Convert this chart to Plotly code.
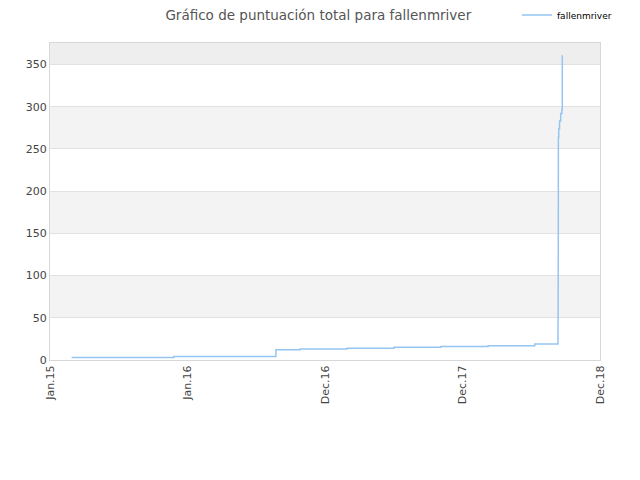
import plotly.graph_objects as go

# steps of the total score over time
fechas = [
    "2015-03-27", "2015-12-12", "2016-08-28", "2016-10-28", "2017-02-25",
    "2017-06-25", "2017-10-22", "2018-02-19", "2018-06-18",
    "2018-08-16 00:00", "2018-08-16 02:00", "2018-08-16 04:00", "2018-08-16 06:00",
    "2018-08-16 08:00", "2018-08-16 10:00", "2018-08-16 12:00", "2018-08-16 14:00",
    "2018-08-16 16:00", "2018-08-16 18:00", "2018-08-16 20:00", "2018-08-16 22:00",
    "2018-08-17 00:00", "2018-08-18", "2018-08-20", "2018-08-23", "2018-08-26",
    "2018-08-27",
]
puntos = [
    3, 4, 12, 13, 14,
    15, 16, 17, 19,
    27, 35, 41, 49,
    61, 73, 87, 98,
    112, 146, 175, 217,
    264, 274, 283, 292, 297,
    361,
]

ticks_x = ["2015-01-31", "2016-01-16", "2016-12-31", "2017-12-16", "2018-12-01"]
ticks_txt = ["Jan.15", "Jan.16", "Dec.16", "Dec.17", "Dec.18"]
bandas = [(50, 100), (150, 200), (250, 300)]
y_max = 376

fig = go.Figure()
fig.add_trace(go.Scatter(
    x=fechas, y=puntos, mode="lines", name="fallenmriver",
    line=dict(color="#95c5f2", width=1.5, shape="hv"),
))

for y0, y1 in bandas:
    fig.add_shape(type="rect", xref="paper", x0=0, x1=1, y0=y0, y1=y1,
                  fillcolor="#f3f3f3", line_width=0, layer="below")
fig.add_shape(type="rect", xref="paper", x0=0, x1=1, y0=350, y1=y_max,
              fillcolor="#eeeeee", line_width=0, layer="below")

fig.update_layout(
    width=632, height=472,
    margin=dict(l=42, r=40, t=30, b=120),
    paper_bgcolor="white", plot_bgcolor="white",
    font=dict(family="DejaVu Sans", size=11, color="#444444"),
    title=dict(text="Gráfico de puntuación total para fallenmriver",
               xref="container", x=0.491, xanchor="center",
               yref="container", y=0.985, yanchor="middle",
               font=dict(size=13.5, color="#555555")),
    showlegend=True,
    legend=dict(x=0.849, xanchor="left", yref="container", y=0.985, yanchor="middle",
                font=dict(size=9, color="#000000"), bgcolor="rgba(0,0,0,0)"),
    xaxis=dict(range=["2015-01-31", "2018-12-01"], tickvals=ticks_x, ticktext=ticks_txt,
               tickangle=-90, showgrid=False, zeroline=False,
               showline=True, linecolor="#d8d8d8", mirror=True,
               ticks="", tickfont=dict(size=11, color="#444444")),
    yaxis=dict(range=[0, y_max], tickvals=[0, 50, 100, 150, 200, 250, 300, 350],
               showgrid=True, gridcolor="#e2e2e2", zeroline=False,
               showline=True, linecolor="#d8d8d8", mirror=True,
               ticks="", tickfont=dict(size=11, color="#444444")),
)

fig.write_html("out.html")
